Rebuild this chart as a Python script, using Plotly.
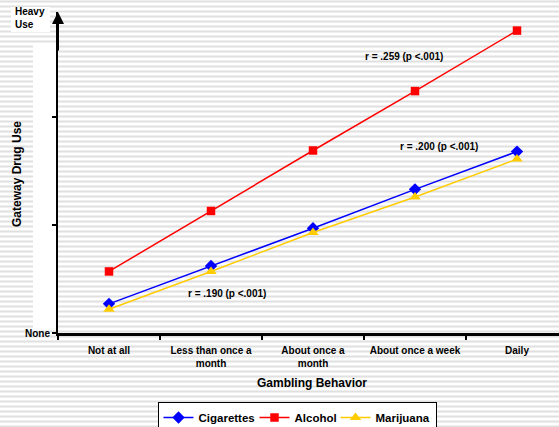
import plotly.graph_objects as go

# ---- data ----
categories = ["Not at all", "Less than once a<br>month", "About once a<br>month",
              "About once a week", "Daily"]
cigarettes = [0.27, 0.62, 0.97, 1.33, 1.68]
alcohol = [0.57, 1.13, 1.69, 2.24, 2.80]
marijuana = [0.22, 0.57, 0.93, 1.26, 1.61]
r_labels = ["r = .259 (p <.001)", "r = .200 (p <.001)", "r = .190 (p <.001)"]

W, H = 559, 427
L, R, T, B = 58, 0, 12, 94
PW, PH = W - L - R, H - T - B

def px(x):
    return (x - L) / PW

def py(y):
    return (H - B - y) / PH

FONT = "Liberation Sans, Arial, sans-serif"

fig = go.Figure()
fig.add_trace(go.Scatter(x=categories, y=cigarettes, name="Cigarettes", mode="lines+markers",
                         line=dict(color="#0000FF", width=1.5), legendwidth=51,
                         marker=dict(symbol="diamond", size=9.5, color="#0000FF")))
fig.add_trace(go.Scatter(x=categories, y=alcohol, name="Alcohol", mode="lines+markers",
                         line=dict(color="#FF0000", width=1.5), legendwidth=36,
                         marker=dict(symbol="square", size=8.5, color="#FF0000")))
fig.add_trace(go.Scatter(x=categories, y=marijuana, name="Marijuana", mode="lines+markers",
                         line=dict(color="#FFCC00", width=1.5),
                         marker=dict(symbol="triangle-up", size=10, color="#FFCC00")))

# striped background
path = ""
for yy in range(1, H + 2, 5):
    path += f"M {px(0)} {py(yy + 0.5)} L {px(W)} {py(yy + 0.5)} "
shapes = [dict(type="path", path=path, xref="paper", yref="paper",
               line=dict(color="#e0e0e0", width=2), layer="below")]
# white boxes behind labels
shapes.append(dict(type="rect", xref="paper", yref="paper", x0=px(11), x1=px(50),
                   y0=py(32), y1=py(7), fillcolor="white", line=dict(width=0), layer="below"))
shapes.append(dict(type="rect", xref="paper", yref="paper", x0=px(33), x1=px(56.5),
                   y0=py(328), y1=py(45), fillcolor="white", line=dict(width=0), layer="below"))

def ann(text, x, y, size=10, **kw):
    d = dict(text=text, x=px(x), y=py(y), xref="paper", yref="paper", showarrow=False,
             xanchor="center", yanchor="middle",
             font=dict(size=size, family=FONT, weight="bold", color="black"))
    d.update(kw)
    return d

annotations = [
    ann(r_labels[0], 404, 56),
    ann(r_labels[1], 439, 146),
    ann(r_labels[2], 227, 293),
    ann("Heavy<br>Use", 13, 18.5, xanchor="left", align="left"),
    ann("Gateway Drug Use", 17, 174, size=12, textangle=-90),
    ann("Gambling Behavior", 312, 383, size=12),
    dict(text="", x=0, y=1, xref="paper", yref="paper", showarrow=True, ax=0, ay=40,
         arrowhead=2, arrowsize=1.2, arrowwidth=2, arrowcolor="black"),
]

fig.update_layout(
    width=W, height=H,
    margin=dict(l=L, r=R, t=T, b=B, autoexpand=False),
    paper_bgcolor="white", plot_bgcolor="rgba(0,0,0,0)",
    shapes=shapes, annotations=annotations,
    font=dict(family=FONT, color="black"),
    showlegend=True,
    legend=dict(orientation="h", x=px(297), xanchor="center", y=py(402), yanchor="top",
                xref="paper", yref="paper",
                bgcolor="white", bordercolor="black", borderwidth=1,
                font=dict(size=11.5, family=FONT, weight="bold", color="black"),
                itemwidth=30, tracegroupgap=0),
)
fig.update_xaxes(type="category", range=[-0.5, 4.5 - 9 / 102], showline=True,
                 linecolor="black", linewidth=3, ticks="outside", tickson="boundaries",
                 ticklen=4, tickwidth=2, tickcolor="black", showgrid=False, zeroline=False,
                 automargin=False, ticklabelstandoff=6,
                 tickfont=dict(size=10, family=FONT, weight="bold", color="black"))
fig.update_yaxes(range=[0, PH / 108], showline=True, linecolor="black", linewidth=2,
                 tickvals=[0, 1, 2], ticktext=["None", "", ""], ticks="outside",
                 ticklen=4, tickwidth=1.5, tickcolor="black", showgrid=False, zeroline=False,
                 automargin=False,
                 tickfont=dict(size=10, family=FONT, weight="bold", color="black"))

fig.write_html("out.html", config={"displayModeBar": False},
               post_script="document.body.style.margin='0px';document.body.style.overflow='hidden';")
